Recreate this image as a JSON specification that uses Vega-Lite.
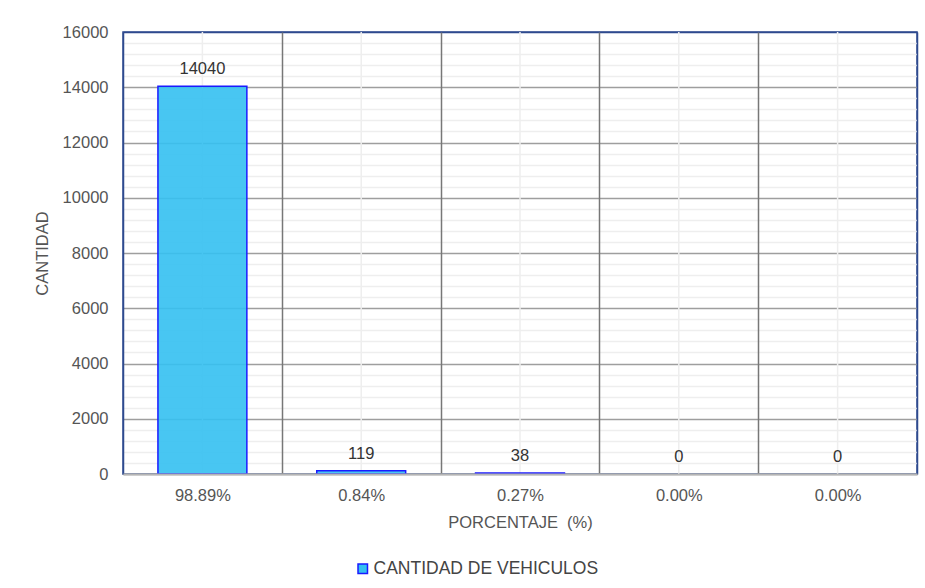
{
  "$schema": "https://vega.github.io/schema/vega-lite/v6.json",
  "width": 794,
  "height": 442,
  "autosize": {"type": "none"},
  "padding": {"left": 123, "top": 32, "right": 8, "bottom": 114},
  "background": "white",
  "config": {
    "font": "Liberation Sans",
    "view": {"stroke": "#2E4A8E", "strokeWidth": 1.5}
  },
  "data": {
    "values": [
      {"porcentaje": "98.89%", "cantidad": 14040, "serie": "CANTIDAD DE VEHICULOS"},
      {"porcentaje": "0.84%", "cantidad": 119, "serie": "CANTIDAD DE VEHICULOS"},
      {"porcentaje": "0.27%", "cantidad": 38, "serie": "CANTIDAD DE VEHICULOS"},
      {"porcentaje": "0.00%", "cantidad": 0, "serie": "CANTIDAD DE VEHICULOS"},
      {"porcentaje": "0.00% ", "cantidad": 0, "serie": "CANTIDAD DE VEHICULOS"}
    ]
  },
  "encoding": {
    "x": {
      "field": "porcentaje",
      "type": "nominal",
      "sort": null,
      "scale": {"paddingInner": 0, "paddingOuter": 0},
      "axis": {
        "title": "PORCENTAJE\u00a0\u00a0(%)",
        "titleFontSize": 16.5,
        "titleFontWeight": "normal",
        "titleColor": "#555555",
        "titlePadding": 11,
        "labelFontSize": 16.5,
        "labelColor": "#555555",
        "labelAngle": 0,
        "labelPadding": 13,
        "ticks": false,
        "domain": true,
        "domainColor": "#b5b5b5",
        "domainWidth": 2,
        "grid": true,
        "tickBand": "extent",
        "gridColor": {"condition": {"test": "datum.value === '0.00% ' || !!datum.extra", "value": "#2E4A8E"}, "value": "#777777"},
        "gridWidth": 1.5,
        "zindex": 1
      }
    }
  },
  "layer": [
    {
      "mark": {"type": "bar", "opacity": 0},
      "encoding": {
        "y": {
          "field": "cantidad",
          "type": "quantitative",
          "scale": {"domain": [0, 16000], "nice": false},
          "axis": {
            "orient": "right",
            "values": [400, 800, 1200, 1600, 2400, 2800, 3200, 3600, 4400, 4800, 5200, 5600, 6400, 6800, 7200, 7600, 8400, 8800, 9200, 9600, 10400, 10800, 11200, 11600, 12400, 12800, 13200, 13600, 14400, 14800, 15200, 15600],
            "labels": false,
            "ticks": false,
            "domain": false,
            "title": null,
            "grid": true,
            "gridColor": "#eeeeee",
            "gridWidth": 1.5
          }
        }
      }
    },
    {
      "mark": {"type": "rule", "color": "#eeeeee", "strokeWidth": 1.5},
      "encoding": {}
    },
    {
      "mark": {"type": "bar", "width": {"band": 0.56}, "strokeWidth": 1.5, "fillOpacity": 0.9},
      "encoding": {
        "y": {
          "field": "cantidad",
          "type": "quantitative",
          "scale": {"domain": [0, 16000], "nice": false},
          "axis": {
            "orient": "left",
            "values": [0, 2000, 4000, 6000, 8000, 10000, 12000, 14000, 16000],
            "format": "d",
            "title": "CANTIDAD",
            "titleFontSize": 16.5,
            "titleFontWeight": "normal",
            "titleColor": "#555555",
            "titlePadding": 12,
            "labelFontSize": 16.5,
            "labelColor": "#555555",
            "labelPadding": 15,
            "ticks": false,
            "domain": false,
            "grid": true,
            "gridColor": {"condition": {"test": "datum.value === 16000", "value": "#2E4A8E"}, "value": "#9e9e9e"},
            "gridWidth": 1.5
          }
        },
        "stroke": {"condition": {"test": "datum.cantidad > 0", "value": "#1a1aff"}, "value": null},
        "color": {
          "field": "serie",
          "type": "nominal",
          "scale": {"range": ["#34C0F1"]},
          "legend": {
            "orient": "none",
            "legendX": 231,
            "legendY": 528,
            "title": null,
            "symbolType": "square",
            "symbolSize": 90,
            "symbolStrokeColor": "#1a1aff",
            "symbolStrokeWidth": 1.5,
            "symbolOpacity": 1,
            "labelFontSize": 17.5,
            "labelColor": "#444444",
            "labelOffset": 2,
            "labelLimit": 0
          }
        }
      }
    },
    {
      "mark": {"type": "text", "baseline": "bottom", "dy": -9, "fontSize": 16.5, "color": "#333333"},
      "encoding": {
        "y": {
          "field": "cantidad",
          "type": "quantitative",
          "scale": {"domain": [0, 16000], "nice": false},
          "axis": null
        },
        "text": {"field": "cantidad", "type": "quantitative"}
      }
    }
  ],
  "resolve": {"scale": {"y": "independent"}, "axis": {"y": "independent"}}
}
